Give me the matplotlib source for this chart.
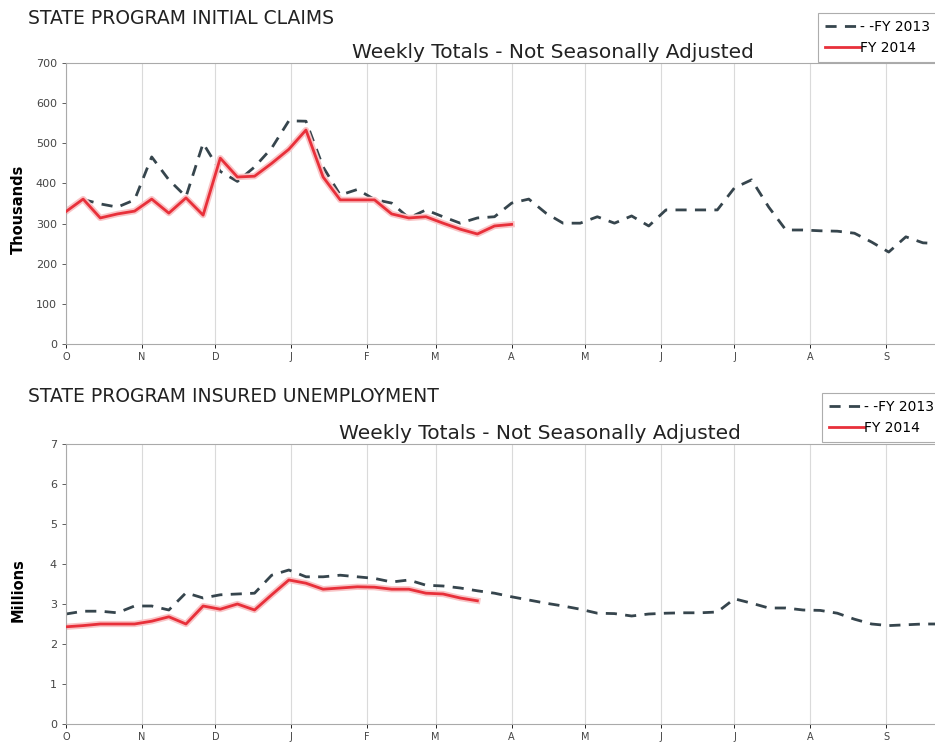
import numpy as np
import matplotlib.pyplot as plt

plt.rcParams['font.family'] = ['DejaVu Sans']

# month labels and day offsets from Oct 1 (fiscal year start)
months = ['O', 'N', 'D', 'J', 'F', 'M', 'A', 'M', 'J', 'J', 'A', 'S']
month_days = [0, 31, 61, 92, 123, 151, 182, 212, 243, 273, 304, 335]

# initial claims, thousands (weekly)
claims_fy2013 = [335, 360, 349, 341, 359, 466, 409, 367, 500, 430, 405, 441,
                 488, 556, 555, 441, 371, 385, 360, 351, 314, 334, 317, 301,
                 314, 317, 351, 361, 326, 301, 301, 317, 301, 319, 294, 334,
                 334, 334, 334, 389, 409, 341, 284, 284, 282, 281, 276, 254,
                 229, 267, 252, 250]
claims_fy2014 = [330, 361, 314, 324, 331, 361, 326, 364, 321, 463, 416, 418,
                 450, 485, 533, 416, 359, 359, 359, 324, 314, 317, 301, 286,
                 274, 294, 298]

# insured unemployment, millions (weekly)
insured_fy2013 = [2.75, 2.82, 2.82, 2.78, 2.95, 2.95, 2.85, 3.28, 3.15, 3.23,
                  3.25, 3.27, 3.72, 3.85, 3.68, 3.68, 3.72, 3.68, 3.64, 3.55,
                  3.60, 3.47, 3.45, 3.40, 3.33, 3.27, 3.18, 3.10, 3.02, 2.95,
                  2.87, 2.77, 2.76, 2.70, 2.75, 2.77, 2.78, 2.78, 2.80, 3.13,
                  3.02, 2.90, 2.90, 2.85, 2.84, 2.77, 2.62, 2.50, 2.46, 2.48,
                  2.50, 2.50]
insured_fy2014 = [2.43, 2.46, 2.50, 2.50, 2.50, 2.57, 2.68, 2.50, 2.95, 2.87,
                  3.00, 2.85, 3.23, 3.60, 3.52, 3.37, 3.40, 3.43, 3.42, 3.37,
                  3.37, 3.27, 3.25, 3.15, 3.08]

DASH_COLOR = '#36454d'
RED = '#e8303a'
GRID = '#dadada'


def format_panel(ax, title, ylabel, ymax, yticks, title_x):
    ax.set_xlim(0, 50.7)
    ax.set_ylim(0, ymax)
    month_weeks = np.array(month_days) / 7.0
    ax.set_xticks(month_weeks)
    ax.set_xticklabels(months, fontsize=7, color='#444444')
    ax.set_yticks(yticks)
    ax.tick_params(axis='y', labelsize=8, colors='#444444', length=3, width=0.6)
    ax.tick_params(axis='x', length=3, width=0.6, pad=3)
    ax.grid(axis='x', color=GRID, lw=0.8)
    ax.set_axisbelow(True)
    for side in ['left', 'bottom', 'top']:
        ax.spines[side].set_color('#aaaaaa')
        ax.spines[side].set_linewidth(0.8)
    ax.spines['right'].set_visible(False)
    ax.set_ylabel(ylabel, fontsize=10.5, fontweight='bold')
    ax.yaxis.set_label_coords(-40 / 869, 0.48)
    ax.text(title_x, 1.005, title, transform=ax.transAxes, ha='center',
            va='bottom', fontsize=14.5, color='#222222')


def draw_series(ax, fy13, fy14):
    ax.plot(np.arange(len(fy13)), fy13, color=DASH_COLOR, lw=2,
            dashes=(4, 3), label='- -FY 2013', clip_on=True)
    ax.plot(np.arange(len(fy14)), fy14, color='#f9c4c6', lw=4.5,
            solid_joinstyle='round', zorder=2)
    ax.plot(np.arange(len(fy14)), fy14, color=RED, lw=2,
            label='FY 2014', zorder=3)


fig = plt.figure(figsize=(9.35, 7.45), dpi=100)
ax1 = fig.add_axes([66 / 935, 1 - 344 / 745, 1 - 66 / 935, 281 / 745])
ax2 = fig.add_axes([66 / 935, 1 - 724 / 745, 1 - 66 / 935, 280 / 745])

draw_series(ax1, claims_fy2013, claims_fy2014)
format_panel(ax1, 'Weekly Totals - Not Seasonally Adjusted', 'Thousands',
             700, np.arange(0, 701, 100), 0.56)

draw_series(ax2, insured_fy2013, insured_fy2014)
format_panel(ax2, 'Weekly Totals - Not Seasonally Adjusted', 'Millions',
             7, np.arange(0, 8, 1), 0.545)

fig.text(28 / 935, 1 - 18 / 745, 'STATE PROGRAM INITIAL CLAIMS',
         fontsize=13.5, va='center', ha='left', color='#222222')
fig.text(28 / 935, 1 - 397 / 745, 'STATE PROGRAM INSURED UNEMPLOYMENT',
         fontsize=13.5, va='center', ha='left', color='#222222')

for ax, (lx, ly) in [(ax1, (818, 13)), (ax2, (822, 393))]:
    handles, labels = ax.get_legend_handles_labels()
    leg = fig.legend(handles, labels, loc='upper left',
                     bbox_to_anchor=(lx / 935, 1 - ly / 745),
                     fontsize=10, frameon=True, fancybox=False,
                     edgecolor='#999999', handlelength=2.5,
                     handletextpad=0.0, borderpad=0.5, labelspacing=0.5,
                     borderaxespad=0)
    leg.get_frame().set_linewidth(0.8)

fig.savefig('out.png', dpi=100)
